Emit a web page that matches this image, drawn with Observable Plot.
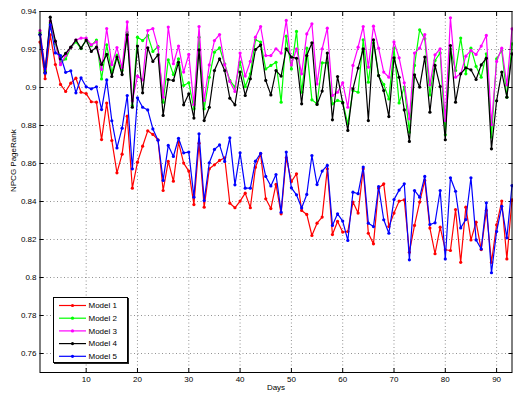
<!DOCTYPE html>
<html>
<head>
<meta charset="utf-8">
<script src="https://cdn.jsdelivr.net/npm/d3@7"></script>
<script src="https://cdn.jsdelivr.net/npm/@observablehq/plot@0.6"></script>
<style>
  html, body { margin: 0; padding: 0; background: #fff; }
  #wrap { position: relative; width: 513px; height: 394px; font-family: "Liberation Sans", Arial, sans-serif; }
  #legend { position: absolute; left: 53px; top: 297px; background: #fff; border: 1px solid #000; box-shadow: 1px 1px 0 #222; }
</style>
</head>
<body>
<div id="wrap"></div>
<script>
// Daily NPCG PageRank for five models over 93 days
const days = d3.range(1, 94);
const modelNames = ["Model 1", "Model 2", "Model 3", "Model 4", "Model 5"];
const modelColors = ["#ff0000", "#00ff00", "#ff00ff", "#000000", "#0000ff"];
const xTicks = [10, 20, 30, 40, 50, 60, 70, 80, 90];
const yTicks = [0.76, 0.78, 0.8, 0.82, 0.84, 0.86, 0.88, 0.9, 0.92, 0.94];

const model1 = [
  0.9239, 0.9046, 0.9277, 0.9121, 0.9016, 0.8979, 0.9023, 0.9049, 0.8975, 0.8968,
  0.8925, 0.8923, 0.8726, 0.8918, 0.8721, 0.8551, 0.8649, 0.8849, 0.8470, 0.8607,
  0.8691, 0.8772, 0.8753, 0.8725, 0.8458, 0.8611, 0.8507, 0.8712, 0.8602, 0.8560,
  0.8384, 0.8707, 0.8370, 0.8572, 0.8593, 0.8616, 0.8630, 0.8391, 0.8367, 0.8402,
  0.8444, 0.8367, 0.8580, 0.8651, 0.8414, 0.8363, 0.8490, 0.8335, 0.8630, 0.8505,
  0.8546, 0.8353, 0.8332, 0.8221, 0.8286, 0.8318, 0.8572, 0.8226, 0.8295, 0.8239,
  0.8242, 0.8397, 0.8339, 0.8572, 0.8233, 0.8177, 0.8470, 0.8493, 0.8268, 0.8339,
  0.8402, 0.8409, 0.8133, 0.8274, 0.8397, 0.8511, 0.8260, 0.8125, 0.8265, 0.8146,
  0.8142, 0.8358, 0.8080, 0.8370, 0.8198, 0.8291, 0.8147, 0.8353, 0.8080, 0.8277,
  0.8402, 0.8098, 0.8409
];
const model2 = [
  0.9290, 0.9090, 0.9340, 0.9230, 0.9130, 0.9150, 0.9210, 0.9240, 0.9205, 0.9250,
  0.9220, 0.9250, 0.9045, 0.9225, 0.9080, 0.9170, 0.9090, 0.9290, 0.8905, 0.9265,
  0.9247, 0.9274, 0.9190, 0.9216, 0.8923, 0.9146, 0.9068, 0.9151, 0.9011, 0.9025,
  0.8888, 0.9265, 0.8888, 0.9054, 0.9186, 0.9209, 0.9125, 0.9037, 0.9002, 0.9133,
  0.9005, 0.9072, 0.9251, 0.9239, 0.9098, 0.9116, 0.9133, 0.8923, 0.9270, 0.9098,
  0.9295, 0.8975, 0.9207, 0.8935, 0.8914, 0.9130, 0.9130, 0.8914, 0.8932, 0.8923,
  0.8809, 0.8984, 0.8975, 0.9251, 0.9028, 0.9235, 0.9063, 0.9016, 0.8940, 0.9207,
  0.8919, 0.9002, 0.8765, 0.9116, 0.9304, 0.9256, 0.8961, 0.9142, 0.9182, 0.8751,
  0.9204, 0.9089, 0.9260, 0.9072, 0.9207, 0.9111, 0.9054, 0.9177, 0.8739, 0.9151,
  0.9195, 0.8949, 0.9230
];
const model3 = [
  0.9300, 0.9100, 0.9350, 0.9240, 0.9120, 0.9170, 0.9210, 0.9250, 0.9260, 0.9260,
  0.9225, 0.9240, 0.9095, 0.9310, 0.9120, 0.9210, 0.9105, 0.9345, 0.8930, 0.9060,
  0.9040, 0.9300, 0.9310, 0.9210, 0.8949, 0.9318, 0.9125, 0.9218, 0.9081, 0.9174,
  0.8910, 0.9321, 0.8932, 0.9119, 0.9247, 0.9279, 0.9120, 0.9032, 0.8979, 0.9181,
  0.9060, 0.9137, 0.9265, 0.9321, 0.9168, 0.9168, 0.9204, 0.9181, 0.9353, 0.9119,
  0.9204, 0.9072, 0.9282, 0.9335, 0.9019, 0.9204, 0.9312, 0.8958, 0.8975, 0.9025,
  0.8896, 0.9116, 0.9212, 0.9321, 0.9107, 0.9323, 0.9207, 0.9081, 0.9054, 0.9240,
  0.9156, 0.9025, 0.8835, 0.9181, 0.9207, 0.9279, 0.9014, 0.9172, 0.9204, 0.8826,
  0.9367, 0.9054, 0.9072, 0.9165, 0.9195, 0.9174, 0.9218, 0.9274, 0.8805, 0.9137,
  0.9207, 0.9014, 0.9309
];
const model4 = [
  0.9280, 0.9080, 0.9370, 0.9244, 0.9150, 0.9180, 0.9212, 0.9250, 0.9207, 0.9250,
  0.9190, 0.9212, 0.9121, 0.9174, 0.9058, 0.9160, 0.9068, 0.9277, 0.8896, 0.9218,
  0.8972, 0.9209, 0.9137, 0.9172, 0.8853, 0.9042, 0.9037, 0.9133, 0.8909, 0.8967,
  0.8839, 0.9198, 0.8826, 0.8896, 0.9089, 0.9151, 0.9089, 0.8944, 0.8909, 0.9081,
  0.8958, 0.9046, 0.9200, 0.9225, 0.9037, 0.8961, 0.9089, 0.9060, 0.9204, 0.9160,
  0.9154, 0.8914, 0.9168, 0.9235, 0.8911, 0.8981, 0.9181, 0.8830, 0.9058, 0.8919,
  0.8774, 0.8993, 0.9102, 0.9204, 0.8826, 0.9251, 0.9063, 0.8984, 0.8847, 0.9156,
  0.9054, 0.8882, 0.8716, 0.9067, 0.9002, 0.9160, 0.8870, 0.9116, 0.9005, 0.8725,
  0.9221, 0.8923, 0.9072, 0.9104, 0.9093, 0.9042, 0.9119, 0.9154, 0.8677, 0.8930,
  0.9081, 0.8949, 0.9177
];
const model5 = [
  0.9277, 0.9075, 0.9330, 0.9182, 0.9168, 0.9080, 0.9088, 0.8972, 0.9051, 0.9004,
  0.8993, 0.9004, 0.8884, 0.9040, 0.8825, 0.8682, 0.8786, 0.8958, 0.8572, 0.8946,
  0.8896, 0.8882, 0.8782, 0.8723, 0.8511, 0.8695, 0.8637, 0.8733, 0.8656, 0.8660,
  0.8423, 0.8756, 0.8405, 0.8604, 0.8674, 0.8698, 0.8611, 0.8735, 0.8488, 0.8656,
  0.8470, 0.8470, 0.8612, 0.8654, 0.8532, 0.8482, 0.8542, 0.8344, 0.8660, 0.8472,
  0.8435, 0.8366, 0.8437, 0.8642, 0.8489, 0.8560, 0.8590, 0.8274, 0.8335, 0.8297,
  0.8195, 0.8449, 0.8441, 0.8581, 0.8286, 0.8268, 0.8479, 0.8304, 0.8233, 0.8410,
  0.8460, 0.8493, 0.8093, 0.8458, 0.8423, 0.8532, 0.8279, 0.8288, 0.8458, 0.8098,
  0.8525, 0.8454, 0.8261, 0.8305, 0.8525, 0.8198, 0.8150, 0.8393, 0.8025, 0.8242,
  0.8375, 0.8209, 0.8484
];

const seriesValues = [model1, model2, model3, model4, model5];
const rows = modelNames.map((name, i) =>
  days.map((day, j) => ({model: name, day, value: seriesValues[i][j]}))
);

const fmtY = d => String(+d.toFixed(2));

// One line + dot layer per model, drawn in order so Model 5 sits on top
const seriesMarks = rows.flatMap(data => [
  Plot.line(data, {x: "day", y: "value", stroke: "model", strokeWidth: 1.2}),
  Plot.dot(data, {x: "day", y: "value", fill: "model", r: 1.6})
]);

const chart = Plot.plot({
  width: 513,
  height: 394,
  marginLeft: 39.5,
  marginRight: 1.5,
  marginTop: 11,
  marginBottom: 22,
  style: {fontFamily: "'Liberation Sans', Arial, sans-serif", fontSize: "8px", color: "#000", background: "#fff"},
  x: {domain: [1, 93]},
  y: {domain: [0.75, 0.94]},
  color: {domain: modelNames, range: modelColors},
  marks: [
    Plot.gridX(xTicks, {stroke: "#777", strokeOpacity: 0.8, strokeDasharray: "1,2.5"}),
    Plot.gridY(yTicks, {stroke: "#777", strokeOpacity: 0.8, strokeDasharray: "1,2.5"}),
    Plot.axisX({ticks: xTicks, tickSize: -4, tickPadding: 8, label: null}),
    Plot.axisX({ticks: xTicks, anchor: "top", tickSize: -4, tickFormat: () => "", label: null}),
    Plot.axisY({ticks: yTicks, tickSize: -4, tickPadding: 7.5, tickFormat: fmtY, label: null}),
    Plot.axisY({ticks: yTicks, anchor: "right", tickSize: -4, tickFormat: () => "", label: null}),
    ...seriesMarks,
    Plot.frame({stroke: "#000", strokeWidth: 1}),
    Plot.text(["NPCG PageRank"], {frameAnchor: "left", rotate: -90, dx: -27, fontSize: 8}),
    Plot.text(["Days"], {frameAnchor: "bottom", dy: 17, fontSize: 8})
  ]
});

const wrap = document.getElementById("wrap");
wrap.appendChild(chart);

// Legend box with line-and-marker swatches
const legend = d3.select(wrap).append("div").attr("id", "legend");
const lsvg = legend.append("svg").attr("width", 73).attr("height", 64)
  .style("display", "block")
  .style("font-family", "'Liberation Sans', Arial, sans-serif")
  .style("font-size", "8px");
const item = lsvg.selectAll("g").data(modelNames).join("g")
  .attr("transform", (d, i) => `translate(0,${7.5 + i * 12.7})`);
item.append("line").attr("x1", 5).attr("x2", 32)
  .attr("stroke", (d, i) => modelColors[i]).attr("stroke-width", 1.2);
item.append("circle").attr("cx", 18.5).attr("r", 1.6)
  .attr("fill", (d, i) => modelColors[i]);
item.append("text").attr("x", 34.5).attr("dy", "0.35em").text(d => d);
</script>
</body>
</html>
